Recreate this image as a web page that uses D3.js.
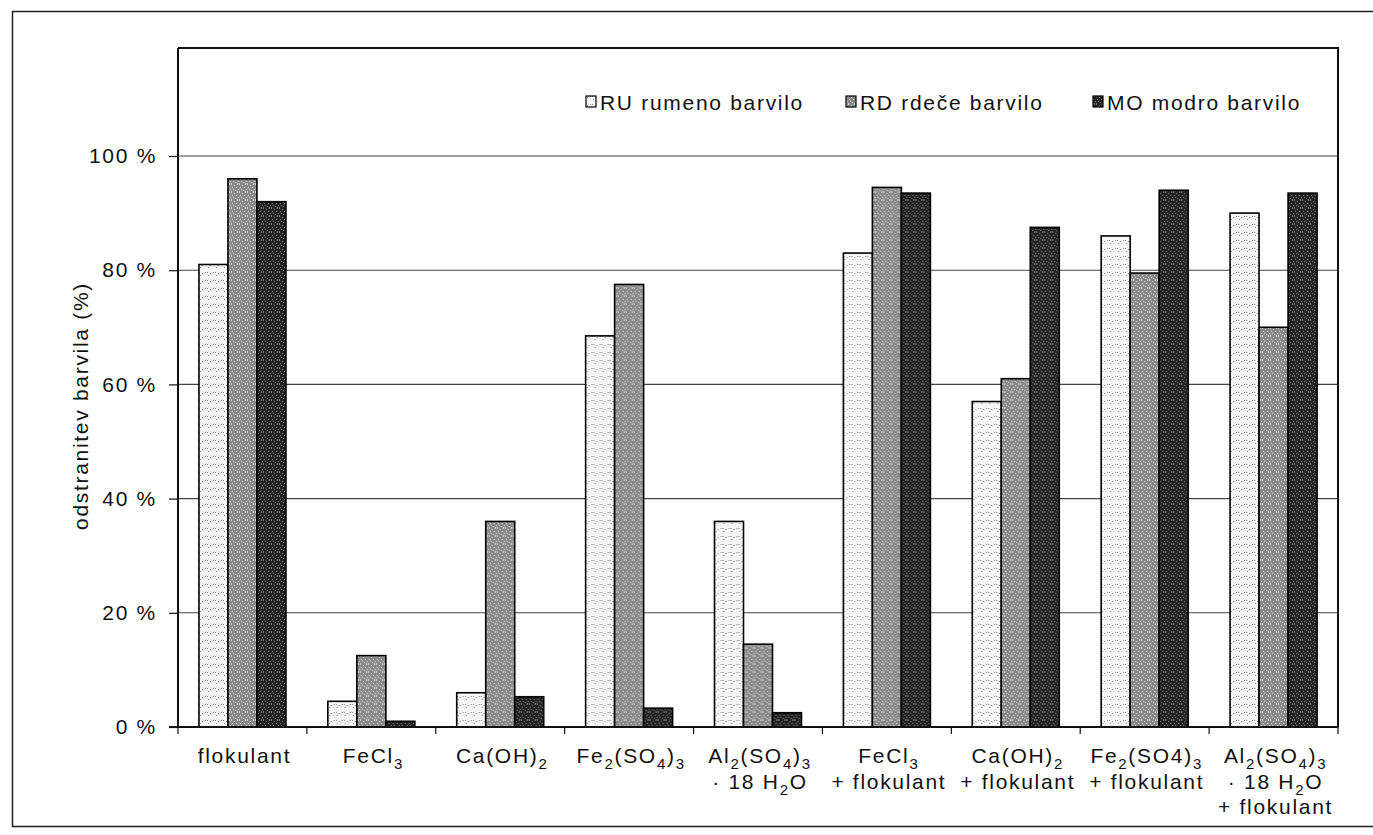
<!DOCTYPE html>
<html>
<head>
<meta charset="utf-8">
<script src="https://cdn.jsdelivr.net/npm/d3@7"></script>
<style>
  html, body { margin: 0; padding: 0; background: #fff; }
  svg { display: block; font-family: "Liberation Sans", Arial, sans-serif; }
  .lbl { font-family: "Liberation Sans", Arial, sans-serif; font-size: 21px; letter-spacing: 1.7px; fill: #111; }
</style>
</head>
<body>
<svg id="chart" width="1373" height="835"></svg>
<script>
// Category labels: "\n" breaks a line, "_x" marks a subscript character
const categories = [
  "flokulant",
  "FeCl_3",
  "Ca(OH)_2",
  "Fe_2(SO_4)_3",
  "Al_2(SO_4)_3\n· 18 H_2O",
  "FeCl_3\n+ flokulant",
  "Ca(OH)_2\n+ flokulant",
  "Fe_2(SO4)_3\n+ flokulant",
  "Al_2(SO_4)_3\n· 18 H_2O\n+ flokulant"
];
const seriesNames = ["RU rumeno barvilo", "RD rdeče barvilo", "MO modro barvilo"];
const ruValues = [81, 4.5, 6, 68.5, 36, 83, 57, 86, 90];
const rdValues = [96, 12.5, 36, 77.5, 14.5, 94.5, 61, 79.5, 70];
const moValues = [92, 1, 5.3, 3.3, 2.5, 93.5, 87.5, 94, 93.5];
const yTicks = [0, 20, 40, 60, 80, 100];
const yTitle = "odstranitev barvila (%)";

const series = [ruValues, rdValues, moValues];

const svg = d3.select("#chart");
const plot = { left: 178, right: 1338, top: 48, bottom: 727 };

// outer frame (its right edge runs past the page)
svg.append("rect")
  .attr("x", 12.5).attr("y", 11.5).attr("width", 1380).attr("height", 815)
  .attr("fill", "none").attr("stroke", "#222").attr("stroke-width", 1.5);

// speckled fills for the three series
const defs = svg.append("defs");
const fills = [
  { base: "#f6f6f6", dot: "#8a8a8a" },
  { base: "#8a8a8a", dot: "#d4d4d4" },
  { base: "#242424", dot: "#7a7a7a" }
];
const dotSpots = [[0,0],[3,1],[6,0],[1,3],[5,3],[2,5],[7,5],[4,6],[0,7],[6,7]];
fills.forEach((f, i) => {
  const p = defs.append("pattern")
    .attr("id", "fill" + i).attr("patternUnits", "userSpaceOnUse")
    .attr("width", 8).attr("height", 8);
  p.append("rect").attr("width", 8).attr("height", 8).attr("fill", f.base);
  p.selectAll("rect.d").data(i === 0 ? dotSpots.slice(0, 4) : dotSpots).join("rect")
    .attr("class", "d").attr("x", d => d[0]).attr("y", d => d[1])
    .attr("width", 1).attr("height", 1).attr("fill", f.dot);
});

const x0 = d3.scaleBand()
  .domain(d3.range(categories.length))
  .range([plot.left, plot.right])
  .paddingInner(0.325).paddingOuter(0.1625);
const x1 = d3.scaleBand()
  .domain(d3.range(series.length))
  .range([0, x0.bandwidth()]);
const y = d3.scaleLinear().domain([0, 100]).range([plot.bottom, 156]);

// horizontal gridlines
svg.append("g")
  .selectAll("line")
  .data(yTicks.filter(t => t > 0))
  .join("line")
  .attr("x1", plot.left).attr("x2", plot.right)
  .attr("y1", d => y(d)).attr("y2", d => y(d))
  .attr("stroke", "#444").attr("stroke-width", 1.1);

// plot frame (top and right)
svg.append("path")
  .attr("d", `M${plot.left},${plot.top}H${plot.right}V${plot.bottom}`)
  .attr("fill", "none").attr("stroke", "#111").attr("stroke-width", 2);

// bars
const groups = svg.append("g").selectAll("g")
  .data(categories.map((c, i) => i))
  .join("g")
  .attr("transform", i => `translate(${x0(i)},0)`);
groups.selectAll("rect")
  .data(i => series.map((s, k) => ({ k, v: s[i] })))
  .join("rect")
  .attr("x", d => x1(d.k))
  .attr("width", x1.bandwidth())
  .attr("y", d => y(d.v))
  .attr("height", d => y(0) - y(d.v))
  .attr("fill", d => `url(#fill${d.k})`)
  .attr("stroke", "#000").attr("stroke-width", 1.6);

// y axis
const yAxis = d3.axisLeft(y).tickValues(yTicks).tickSize(9).tickPadding(12)
  .tickFormat(d => d + " %");
const gy = svg.append("g").attr("transform", `translate(${plot.left},0)`).call(yAxis);
gy.attr("font-size", null).attr("font-family", null);
gy.select(".domain").attr("d", `M0,${plot.top}V${plot.bottom}`).attr("stroke", "#111").attr("stroke-width", 2);
gy.selectAll(".tick line").attr("stroke", "#111").attr("stroke-width", 1.2);
gy.selectAll(".tick text").attr("class", "lbl").attr("fill", null);

// x axis baseline and category boundary ticks
const boundaries = d3.range(categories.length + 1)
  .map(i => plot.left + i * x0.step());
svg.append("line")
  .attr("x1", plot.left - 9).attr("x2", plot.right)
  .attr("y1", plot.bottom).attr("y2", plot.bottom)
  .attr("stroke", "#111").attr("stroke-width", 2);
svg.append("g").selectAll("line").data(boundaries).join("line")
  .attr("x1", d => d).attr("x2", d => d)
  .attr("y1", plot.bottom).attr("y2", plot.bottom + 7)
  .attr("stroke", "#111").attr("stroke-width", 1.2);

// category labels with subscripts
function addRich(textSel, str) {
  const parts = str.split(/_(\w)/);
  parts.forEach((p, j) => {
    if (!p) return;
    const sub = j % 2 === 1;
    const t = textSel.append("tspan").text(p);
    if (sub) t.attr("font-size", 15).attr("dy", 6);
    else if (j > 0) t.attr("dy", -6);
  });
}
const xl = svg.append("g");
categories.forEach((c, i) => {
  const cx = x0(i) + x0.bandwidth() / 2 + 2;
  c.split("\n").forEach((line, li) => {
    const t = xl.append("text")
      .attr("class", "lbl")
      .attr("x", cx).attr("y", 763 + li * 25.5)
      .attr("text-anchor", "middle");
    addRich(t, line);
  });
});

// y axis title
svg.append("text")
  .attr("class", "lbl")
  .attr("transform", "translate(88,406) rotate(-90)")
  .attr("text-anchor", "middle")
  .text(yTitle);

// legend
const legendX = [586, 846, 1093];
const lg = svg.append("g");
seriesNames.forEach((name, k) => {
  lg.append("rect")
    .attr("x", legendX[k]).attr("y", 96).attr("width", 10).attr("height", 11)
    .attr("fill", `url(#fill${k})`).attr("stroke", "#000").attr("stroke-width", 1.2);
  lg.append("text")
    .attr("class", "lbl")
    .attr("x", legendX[k] + 14).attr("y", 110)
    .text(name);
});
</script>
</body>
</html>
